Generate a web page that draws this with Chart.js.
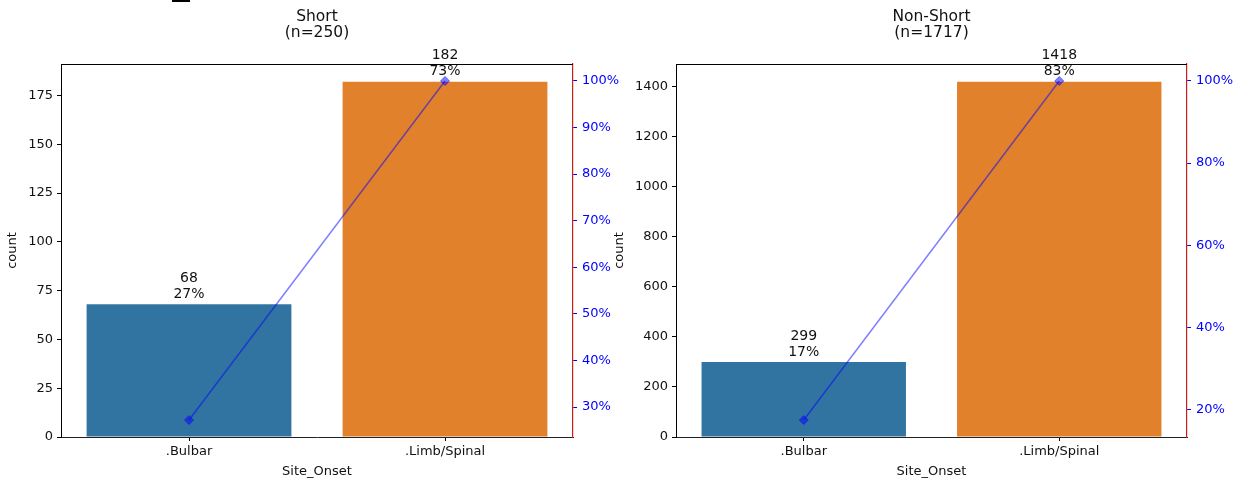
<!DOCTYPE html>
<html><head><meta charset="utf-8">
<script src="https://cdn.jsdelivr.net/npm/chart.js@4/dist/chart.umd.min.js"></script>
<style>
html,body{margin:0;padding:0;background:#fff;width:1238px;height:482px;overflow:hidden;position:relative}
canvas{position:absolute;top:0}
</style></head><body>
<div id="mark" style="position:absolute;left:172px;top:0;width:18px;height:2px;background:#000"></div>
<canvas id="c1" width="630" height="482" style="left:0;width:630px;height:482px"></canvas>
<canvas id="c2" width="628" height="482" style="left:610px;width:628px;height:482px"></canvas>
<script>
// ---- data ----
const categories = ['.Bulbar', '.Limb/Spinal'];
const shortCounts = [68, 182];
const shortPctLabels = ['27%', '73%'];
const shortCumPct = [27.2, 100];
const shortTitle = ['Short', '(n=250)'];
const nonShortCounts = [299, 1418];
const nonShortPctLabels = ['17%', '83%'];
const nonShortCumPct = [17.41, 100];
const nonShortTitle = ['Non-Short', '(n=1717)'];
const shortCountTicks = [0, 25, 50, 75, 100, 125, 150, 175];
const shortPctTicks = [30, 40, 50, 60, 70, 80, 90, 100];
const nonShortCountTicks = [0, 200, 400, 600, 800, 1000, 1200, 1400];
const nonShortPctTicks = [20, 40, 60, 80, 100];

const FONT = "'DejaVu Sans', sans-serif";
const barColors = ['#3274a1', '#e1812c'];
const lineColor = 'rgba(0,0,255,0.5)';

function makeChart(id, o) {
  const cMax = Math.max(...o.counts) * 1.05;
  const pLo = Math.min(...o.cum), pHi = Math.max(...o.cum);
  const pm = (pHi - pLo) * 0.05;
  const deco = {
    id: 'deco',
    afterDatasetsDraw(chart) {
      const ctx = chart.ctx;
      ctx.save();
      const meta = chart.getDatasetMeta(0);
      ctx.fillStyle = '#111';
      ctx.font = '14px ' + FONT;
      ctx.textAlign = 'center';
      ctx.textBaseline = 'middle';
      meta.data.forEach((el, i) => {
        ctx.fillText(String(o.counts[i]), el.x, el.y - 26);
        ctx.fillText(o.pct[i], el.x, el.y - 10);
      });
      ctx.restore();
    },
    afterDraw(chart) {
      const ctx = chart.ctx, a = chart.chartArea;
      ctx.save();
      ctx.strokeStyle = '#000';
      ctx.lineWidth = 1;
      ctx.beginPath();
      ctx.moveTo(a.left, a.top + 0.5);
      ctx.lineTo(a.right, a.top + 0.5);
      ctx.stroke();
      ctx.fillStyle = '#111';
      ctx.font = '15.5px ' + FONT;
      ctx.textAlign = 'center';
      ctx.textBaseline = 'middle';
      const cx = (a.left + a.right) / 2;
      ctx.fillText(o.title[0], cx, 17);
      ctx.fillText(o.title[1], cx, 33);
      ctx.restore();
    }
  };
  return new Chart(document.getElementById(id), {
    data: {
      labels: categories,
      datasets: [
        { type: 'bar', data: o.counts, backgroundColor: barColors, yAxisID: 'y', order: 1,
          barPercentage: 0.8, categoryPercentage: 1.0, borderWidth: 0 },
        { type: 'line', data: o.cum, yAxisID: 'y2', order: 0,
          borderColor: lineColor, backgroundColor: lineColor, borderWidth: 1.5,
          pointStyle: 'rectRot', pointRadius: 4.5, pointBorderWidth: 1, tension: 0 }
      ]
    },
    options: {
      responsive: false, animation: false, devicePixelRatio: 1,
      layout: { padding: { top: 64, left: 0, right: 0, bottom: 0 } },
      plugins: { legend: { display: false }, tooltip: { enabled: false }, title: { display: false } },
      scales: {
        x: {
          type: 'category', offset: true,
          grid: { display: true, drawOnChartArea: false, drawTicks: true, tickLength: 4, offset: false, tickColor: '#000' },
          border: { display: true, color: '#222', width: 1 },
          ticks: { color: '#111', font: { family: FONT, size: 13 }, padding: 3, maxRotation: 0 },
          title: { display: true, text: 'Site_Onset', color: '#111', font: { family: FONT, size: 13 }, padding: { top: 0, bottom: 3 } },
          afterFit(s) { s.height = 45; }
        },
        y: {
          type: 'linear', position: 'left', min: 0, max: cMax,
          grid: { display: true, drawOnChartArea: false, drawTicks: true, tickLength: 4, tickColor: '#000' },
          border: { display: true, color: '#000', width: 1 },
          ticks: { color: '#111', font: { family: FONT, size: 13 }, padding: 4, callback: v => String(v) },
          title: { display: true, text: 'count', color: '#111', font: { family: FONT, size: 13 }, padding: { top: o.titlePad, bottom: 0 } },
          afterBuildTicks(s) { s.ticks = o.cTicks.map(v => ({ value: v })); },
          afterFit(s) { s.width = o.leftW; }
        },
        y2: {
          type: 'linear', position: 'right', min: pLo - pm, max: pHi + pm,
          grid: { display: true, drawOnChartArea: false, drawTicks: true, tickLength: 4, tickColor: 'blue' },
          border: { display: true, color: 'rgb(200,30,30)', width: 1.2 },
          ticks: { color: 'blue', font: { family: FONT, size: 13 }, padding: 5, callback: v => v + '%' },
          afterBuildTicks(s) { s.ticks = o.pTicks.map(v => ({ value: v })); },
          afterFit(s) { s.width = o.rightW; }
        }
      }
    },
    plugins: [deco]
  });
}

makeChart('c1', { counts: shortCounts, pct: shortPctLabels, cum: shortCumPct, title: shortTitle,
  cTicks: shortCountTicks, pTicks: shortPctTicks, leftW: 61, rightW: 57, titlePad: 5 });
makeChart('c2', { counts: nonShortCounts, pct: nonShortPctLabels, cum: nonShortCumPct, title: nonShortTitle,
  cTicks: nonShortCountTicks, pTicks: nonShortPctTicks, leftW: 66, rightW: 51, titlePad: 2 });
</script>
</body></html>
